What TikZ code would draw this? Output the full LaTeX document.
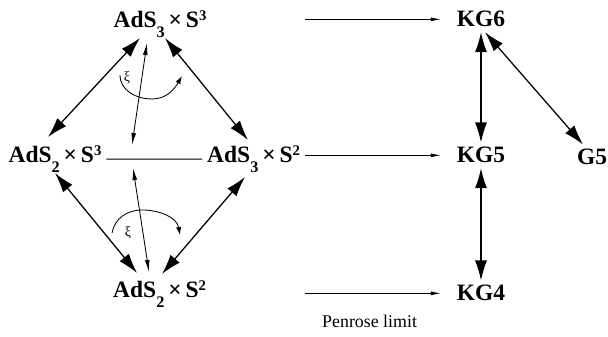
\documentclass[tikz,border=0pt]{standalone}
\usepackage{fontspec}
\setmainfont{Liberation Serif}
\usetikzlibrary{arrows.meta, positioning}

\newcommand{\ads}[2]{AdS\raisebox{-0.42em}{\fontsize{11.5}{13}\selectfont #1}\,×\,S\raisebox{0.34em}{\fontsize{10.5}{12}\selectfont #2}}

\begin{document}
\begin{tikzpicture}[>=latex,
    lab/.style={anchor=base, font=\fontsize{16.7}{20}\selectfont\bfseries},
    bigarr/.style={{Latex[length=5mm,width=3mm]}-{Latex[length=5mm,width=3mm]}, line width=0.9pt},
    thinarr/.style={{Latex[length=3mm,width=1.2mm]}-{Latex[length=3mm,width=1.2mm]}, line width=0.6pt},
    limarr/.style={-{Latex[length=2.5mm,width=1mm]}, line width=0.6pt, shorten >=2.75mm},
    turn/.style={-{Latex[length=2mm,width=1.3mm]}, line width=0.6pt}]
    \useasboundingbox (0,0) rectangle (15.2,8.425);

    % Geometrien
    \node[lab] (a33) at (4.0,7.725) {\ads{3}{3}};
    \node[lab] (a23) at (1.375,4.35) {\ads{2}{3}};
    \node[lab] (a32) at (6.34,4.35) {\ads{3}{2}};
    \node[lab] (a22) at (3.99,0.975) {\ads{2}{2}};

    % Wellengleichungen
    \node[lab] (kg6) at (12.025,7.75) {KG6};
    \node[lab] (kg5) at (12.025,4.35) {KG5};
    \node[lab] (kg4) at (12.025,0.9) {KG4};
    \node[lab] (g5) at (14.8,4.3) {G5};
    \node[anchor=base, font=\fontsize{12.7}{15}\selectfont] (pl) at (9.24,0.225) {Penrose limit};

    % Raute links
    \draw[bigarr] ([shift={(-0.5,-0.25)}]a33.base) -- ([shift={(-0.175,0.65)}]a23.base);
    \draw[bigarr] ([shift={(0.125,-0.25)}]a33.base) -- ([shift={(-0.14,0.575)}]a32.base);
    \draw[bigarr] ([shift={(0,-0.25)}]a23.base) -- ([shift={(-0.565,0.625)}]a22.base);
    \draw[bigarr] ([shift={(-0.215,-0.35)}]a32.base) -- ([shift={(0.06,0.6)}]a22.base);
    \draw[line width=0.7pt] (a23.east) -- (a32.west);

    % xi-Drehungen
    \coordinate (x1) at (3.3,4.8);
    \coordinate (x2) at (3.325,4.225);
    \draw[thinarr] ([shift={(-0.325,-0.375)}]a33.base) -- (x1);
    \draw[thinarr] (x2) -- ([shift={(-0.265,0.65)}]a22.base);
    \draw[turn] (3.0,6.55) to[out=-90,in=180] (3.8,5.95) to[out=0,in=-120] (4.55,6.525);
    \draw[turn] (2.8,2.6) to[out=80,in=180] (3.55,3.175) to[out=0,in=100] (4.5,2.55);
    \node[font=\fontsize{10}{12}\selectfont] (xi1) at (3.175,6.475) {ξ};
    \node[font=\fontsize{10}{12}\selectfont] (xi2) at (3.2,2.6) {ξ};

    % Penrose-Limes
    \draw[limarr] (a32.east |- kg6.west) -- (kg6.west);
    \draw[limarr] (a32.east |- kg5.west) -- (kg5.west);
    \draw[limarr] (a32.east |- kg4.west) -- (kg4.west);

    % rechts
    \draw[bigarr] (kg6) -- (kg5);
    \draw[bigarr] (kg5) -- (kg4);
    \draw[bigarr] ([xshift=1mm]kg6.south) -- ([xshift=-2.25mm]g5.north);
\end{tikzpicture}
\end{document}
